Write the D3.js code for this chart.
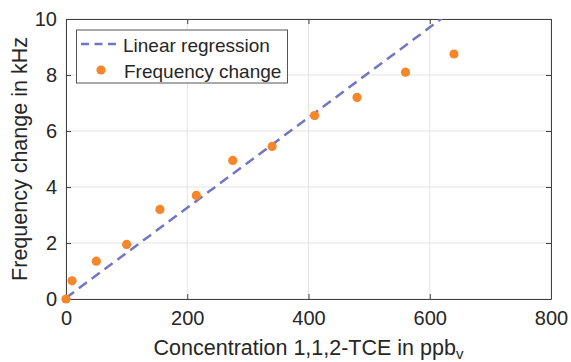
<!DOCTYPE html>
<html>
<head>
<meta charset="utf-8">
<script src="https://cdn.jsdelivr.net/npm/d3@7"></script>
<style>
body { margin: 0; background: #fff; }
text { font-family: "Liberation Sans", Arial, sans-serif; fill: #262626; }
</style>
</head>
<body>
<svg id="chart"></svg>
<script>
// measured points (ppb_v, kHz)
var concentration = [0, 10, 50, 100, 155, 215, 275, 340, 410, 480, 560, 640];
var freqChange = [0, 0.65, 1.35, 1.95, 3.2, 3.7, 4.95, 5.45, 6.55, 7.2, 8.1, 8.75];
// regression line
var regSlope = 0.0161, regIntercept = 0.04;
var xTicks = [0, 200, 400, 600, 800];
var yTicks = [0, 2, 4, 6, 8, 10];

var width = 571, height = 362;
var margin = {top: 19, right: 20, bottom: 63, left: 66};
var w = width - margin.left - margin.right,
    h = height - margin.top - margin.bottom;

var svg = d3.select("#chart")
  .attr("width", width)
  .attr("height", height);

var g = svg.append("g")
  .attr("transform", "translate(" + margin.left + "," + margin.top + ")");

var x = d3.scaleLinear().domain([0, 800]).range([0, w]);
var y = d3.scaleLinear().domain([0, 10]).range([h, 0]);

// grid
g.selectAll(".gx").data(xTicks).enter().append("line")
  .attr("x1", function(d) { return x(d); }).attr("x2", function(d) { return x(d); })
  .attr("y1", 0).attr("y2", h)
  .style("stroke", "#e3e3e3").style("stroke-width", 1);
g.selectAll(".gy").data(yTicks).enter().append("line")
  .attr("y1", function(d) { return y(d); }).attr("y2", function(d) { return y(d); })
  .attr("x1", 0).attr("x2", w)
  .style("stroke", "#e3e3e3").style("stroke-width", 1);

// axes (ticks inside, box on)
var tickLen = 5;
var xAxis = g.append("g").attr("transform", "translate(0," + h + ")")
  .call(d3.axisBottom(x).tickValues(xTicks).tickSizeInner(-tickLen).tickSizeOuter(0).tickPadding(12));
var yAxis = g.append("g")
  .call(d3.axisLeft(y).tickValues(yTicks).tickSizeInner(-tickLen).tickSizeOuter(0).tickPadding(9));
var xTop = g.append("g")
  .call(d3.axisTop(x).tickValues(xTicks).tickSizeInner(-tickLen).tickSizeOuter(0).tickFormat(""));
var yRight = g.append("g").attr("transform", "translate(" + w + ",0)")
  .call(d3.axisRight(y).tickValues(yTicks).tickSizeInner(-tickLen).tickSizeOuter(0).tickFormat(""));

[xAxis, yAxis, xTop, yRight].forEach(function(a) {
  a.selectAll("path").style("stroke", "#404040").style("stroke-width", 1);
  a.selectAll("line").style("stroke", "#404040");
  a.selectAll("text").style("font-size", "20px").style("font-family", "Liberation Sans, Arial, sans-serif").attr("fill", "#262626");
});

// regression line, clipped to plot
svg.append("clipPath").attr("id", "clip")
  .append("rect").attr("width", w).attr("height", h);

var lineX = [0, 800];
var line = d3.line()
  .x(function(d) { return x(d); })
  .y(function(d) { return y(regIntercept + regSlope * d); });

g.append("path")
  .datum(lineX)
  .attr("clip-path", "url(#clip)")
  .attr("d", line)
  .style("fill", "none")
  .style("stroke", "#7474c4")
  .style("stroke-width", 2.5)
  .style("stroke-dasharray", "10,6");

// points
g.selectAll(".pt").data(concentration).enter().append("circle")
  .attr("cx", function(d) { return x(d); })
  .attr("cy", function(d, i) { return y(freqChange[i]); })
  .attr("r", 4.6)
  .style("fill", "#f5862a");

// axis labels
var xl = svg.append("text")
  .attr("x", margin.left + w / 2)
  .attr("y", 355)
  .attr("text-anchor", "middle")
  .style("font-size", "21.5px");
xl.append("tspan").text("Concentration 1,1,2-TCE in ppb");
xl.append("tspan").attr("dy", 4).style("font-size", "15px").text("v");

svg.append("text")
  .attr("transform", "translate(27," + (margin.top + h / 2) + ") rotate(-90)")
  .attr("text-anchor", "middle")
  .style("font-size", "21.5px")
  .text("Frequency change in kHz");

// legend
var legend = svg.append("g");
legend.append("rect")
  .attr("x", 76.5).attr("y", 30).attr("width", 211).attr("height", 53)
  .style("fill", "#fff").style("stroke", "#555").style("stroke-width", 1);
legend.append("line")
  .attr("x1", 81).attr("x2", 120).attr("y1", 44).attr("y2", 44)
  .style("stroke", "#7474c4").style("stroke-width", 2.5).style("stroke-dasharray", "8,5.5");
legend.append("text").attr("x", 123).attr("y", 51.5).style("font-size", "19px").text("Linear regression");
legend.append("circle").attr("cx", 101).attr("cy", 70).attr("r", 4.6).style("fill", "#f5862a");
legend.append("text").attr("x", 124).attr("y", 78).style("font-size", "19px").text("Frequency change");
</script>
</body>
</html>
